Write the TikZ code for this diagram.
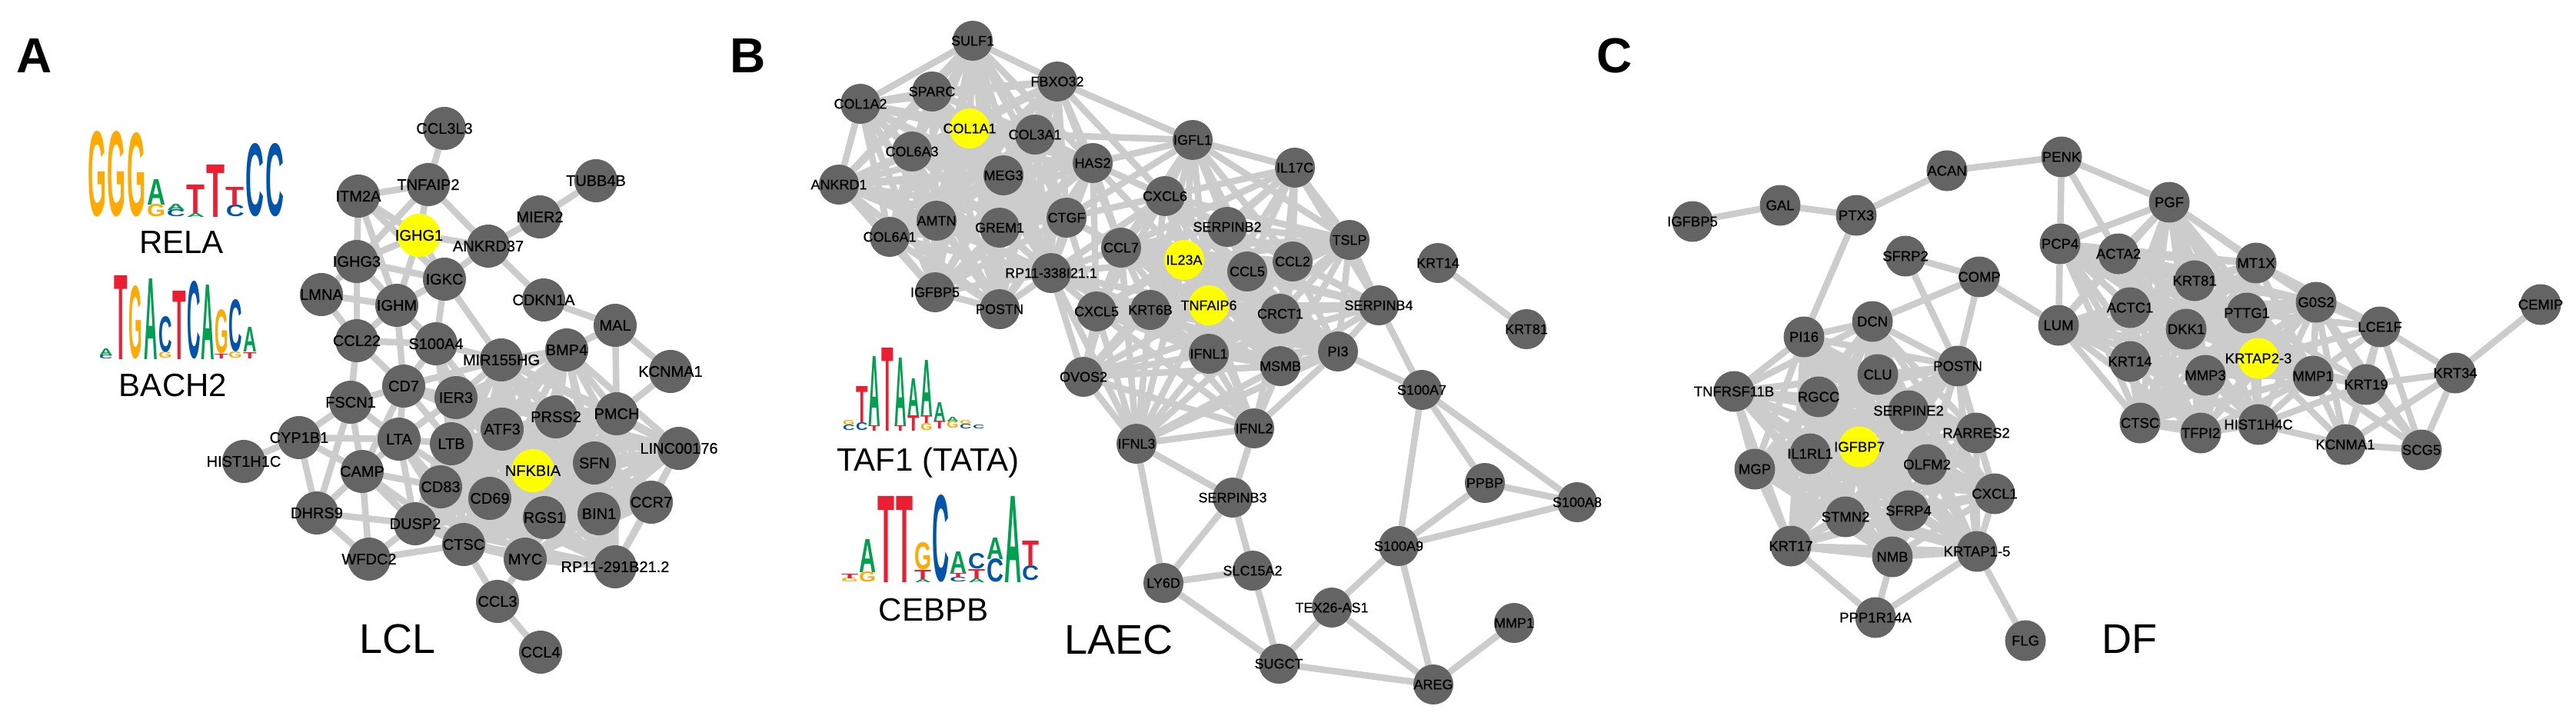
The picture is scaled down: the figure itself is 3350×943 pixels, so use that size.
\documentclass[tikz,border=0pt]{standalone}
\usepackage{fontspec}
\setmainfont{Liberation Sans}
\setsansfont{Liberation Sans}
\newfontfamily\lblfont[FakeBold=0.6]{Liberation Sans}
\usepackage{graphicx}
\pgfdeclarelayer{bg}
\pgfdeclarelayer{edges}
\pgfdeclarelayer{labels}
\pgfsetlayers{bg,edges,main,labels}
\definecolor{nodegray}{RGB}{100,100,100}
\definecolor{edgegray}{RGB}{204,204,204}
\definecolor{hlyellow}{RGB}{255,255,0}
\definecolor{lgA}{RGB}{0,160,80}
\definecolor{lgC}{RGB}{0,85,170}
\definecolor{lgG}{RGB}{255,170,0}
\definecolor{lgT}{RGB}{235,30,50}
\tikzset{
  gnode/.style={circle, fill=nodegray, inner sep=0pt, outer sep=0pt},
  gA/.style={gnode, minimum size=56pt},
  gB/.style={gnode, minimum size=52pt},
  gC/.style={gnode, minimum size=53pt},
  hl/.style={fill=hlyellow},
  edge/.style={draw=edgegray, line width=8.5pt},
  panel/.style={font=\fontsize{64}{64}\selectfont\bfseries, inner sep=0pt},
  cellname/.style={font=\fontsize{54}{54}\selectfont, inner sep=0pt},
  tfname/.style={font=\fontsize{42}{42}\selectfont, inner sep=0pt},
  logoletter/.style={anchor=south west, inner sep=0pt, outer sep=0pt}
}
\newcommand{\gnd}[6]{\node[#1] (#2) at (#3,#4) {};\begin{pgfonlayer}{labels}\node[inner sep=0pt,text=black,font=\lblfont\fontsize{#5}{#5}\selectfont] (#2t) at (#3,#4) {#6};\end{pgfonlayer}}
\newcommand{\na}[5][]{\gnd{gA,#1}{#2}{#3}{#4}{20}{#5}}
\newcommand{\nb}[5][]{\gnd{gB,#1}{#2}{#3}{#4}{18}{#5}}
\newcommand{\nc}[5][]{\gnd{gC,#1}{#2}{#3}{#4}{18.5}{#5}}
\newcommand{\clique}[1]{\foreach \u [count=\i] in {#1}{\foreach \v [count=\j] in {#1}{\ifnum\i<\j\relax\draw[edge] (\u) -- (\v);\fi}}}
\def\lgw{24}
\newcommand{\lgl}[5]{\node[logoletter, text=#4] at (#1,#2) {\resizebox{\lgw pt}{#3pt}{\bfseries #5}};}
\begin{document}
\begin{tikzpicture}[x=1pt,y=-1pt]
\begin{pgfonlayer}{bg}
\fill[white] (0,0) rectangle (3350,943);
\end{pgfonlayer}
\useasboundingbox (0,0) rectangle (3350,943);

% panel letters and titles
\node[panel] (pA) at (45,72) {A};
\node[panel] (pB) at (973,72) {B};
\node[panel] (pC) at (2100,72) {C};
\node[cellname] (tLCL) at (517,831) {LCL};
\node[cellname] (tLAEC) at (1455,832) {LAEC};
\node[cellname] (tDF) at (2769,831) {DF};
\node[tfname] (tRELA) at (236,315) {RELA};
\node[tfname] (tBACH2) at (225,501) {BACH2};
\node[tfname] (tTAF1) at (1207,602) {TAF1 (TATA)};
\node[tfname] (tCEBPB) at (1214,793) {CEBPB};

% ---------- logos ----------
% RELA
\def\lgw{24}
\lgl{114}{282}{110}{lgG}{G}
\lgl{139.7}{282}{110}{lgG}{G}
\lgl{165.4}{282}{108}{lgG}{G}
\lgl{191.1}{282}{16}{lgG}{G}\lgl{191.1}{266}{33}{lgA}{A}
\lgl{216.8}{282}{9}{lgC}{C}\lgl{216.8}{273}{8}{lgA}{A}
\lgl{242.5}{282}{5}{lgA}{A}\lgl{242.5}{277}{37}{lgT}{T}
\lgl{268.2}{282}{68}{lgT}{T}
\lgl{293.9}{282}{15}{lgC}{C}\lgl{293.9}{267}{24}{lgT}{T}
\lgl{319.6}{282}{94}{lgC}{C}
\lgl{345.3}{282}{94}{lgC}{C}
% BACH2
\def\lgw{17.5}
\lgl{129}{467}{5}{lgC}{C}\lgl{129}{462}{9}{lgA}{A}
\lgl{148}{467}{109}{lgT}{T}
\lgl{167.5}{467}{94}{lgG}{G}
\lgl{187}{467}{105}{lgA}{A}
\lgl{206}{466}{8}{lgG}{G}\lgl{206}{458}{46}{lgC}{C}
\lgl{224}{467}{89}{lgT}{T}
\lgl{243}{467}{100}{lgC}{C}
\lgl{261}{467}{97}{lgA}{A}
\lgl{279}{466}{6}{lgT}{T}\lgl{279}{460}{57}{lgG}{G}
\lgl{297}{466}{8}{lgG}{G}\lgl{297}{457}{67}{lgC}{C}
\lgl{316}{466}{8}{lgT}{T}\lgl{316}{457}{32}{lgA}{A}
% TAF1
\def\lgw{15.5}
\lgl{1096}{560}{7}{lgC}{C}\lgl{1096}{553}{6}{lgG}{G}
\lgl{1113}{560}{10}{lgC}{C}\lgl{1113}{549}{47}{lgT}{T}
\lgl{1129}{560}{7}{lgT}{T}\lgl{1129}{553}{90}{lgA}{A}
\lgl{1146}{560}{108}{lgT}{T}
\lgl{1163}{560}{7}{lgT}{T}\lgl{1163}{553}{88}{lgA}{A}
\lgl{1180}{560}{20}{lgT}{T}\lgl{1180}{540}{48}{lgA}{A}
\lgl{1197}{560}{9}{lgG}{G}\lgl{1197}{550}{10}{lgT}{T}\lgl{1197}{540}{72}{lgA}{A}
\lgl{1214}{557}{10}{lgT}{T}\lgl{1214}{547}{24}{lgA}{A}
\lgl{1231}{557}{9}{lgG}{G}\lgl{1231}{548}{6}{lgA}{A}
\lgl{1248}{558}{6}{lgC}{C}\lgl{1248}{552}{5}{lgG}{G}
\lgl{1265}{558}{5}{lgC}{C}
% CEBPB
\def\lgw{22}
\lgl{1094}{757}{5}{lgG}{G}\lgl{1094}{752}{6}{lgT}{T}
\lgl{1117}{757}{13}{lgG}{G}\lgl{1117}{744}{43}{lgA}{A}
\lgl{1141}{757}{112}{lgT}{T}
\lgl{1165}{757}{112}{lgT}{T}
\lgl{1189}{757}{4}{lgA}{A}\lgl{1189}{753}{12}{lgT}{T}\lgl{1189}{741}{35}{lgG}{G}
\lgl{1212}{757}{112}{lgC}{C}
\lgl{1235}{757}{6}{lgC}{C}\lgl{1235}{751}{6}{lgT}{T}\lgl{1235}{745}{28}{lgA}{A}
\lgl{1259}{757}{5}{lgA}{A}\lgl{1259}{752}{12}{lgT}{T}\lgl{1259}{740}{20}{lgC}{C}
\lgl{1283}{757}{30}{lgC}{C}\lgl{1283}{727}{28}{lgA}{A}
\lgl{1306}{757}{112}{lgA}{A}
\lgl{1329}{755}{19}{lgC}{C}\lgl{1329}{736}{33}{lgT}{T}

% ---------- Panel A nodes ----------
\na{aCCL3L3}{578}{167}{CCL3L3}
\na{aTNFAIP2}{557}{240}{TNFAIP2}
\na{aTUBB4B}{775}{235}{TUBB4B}
\na{aITM2A}{466}{255}{ITM2A}
\na{aMIER2}{702}{282}{MIER2}
\na[hl]{aIGHG1}{545}{306}{IGHG1}
\na{aANKRD37}{635}{320}{ANKRD37}
\na{aIGHG3}{464}{340}{IGHG3}
\na{aIGKC}{578}{363}{IGKC}
\na{aLMNA}{418}{383}{LMNA}
\na{aCDKN1A}{707}{390}{CDKN1A}
\na{aIGHM}{516}{397}{IGHM}
\na{aMAL}{800}{423}{MAL}
\na{aCCL22}{464}{443}{CCL22}
\na{aS100A4}{567}{447}{S100A4}
\na{aBMP4}{737}{455}{BMP4}
\na{aMIR155HG}{652}{468}{MIR155HG}
\na{aKCNMA1}{872}{483}{KCNMA1}
\na{aCD7}{525}{502}{CD7}
\na{aIER3}{593}{517}{IER3}
\na{aFSCN1}{456}{523}{FSCN1}
\na{aPMCH}{802}{538}{PMCH}
\na{aPRSS2}{723}{542}{PRSS2}
\na{aATF3}{653}{558}{ATF3}
\na{aCYP1B1}{389}{569}{CYP1B1}
\na{aLTA}{519}{571}{LTA}
\na{aLTB}{587}{577}{LTB}
\na{aLINC}{883}{583}{LINC00176}
\na{aHIST}{317}{600}{HIST1H1C}
\na{aSFN}{773}{602}{SFN}
\na[hl]{aNFKBIA}{693}{612}{NFKBIA}
\na{aCAMP}{471}{613}{CAMP}
\na{aCD83}{573}{633}{CD83}
\na{aCD69}{637}{648}{CD69}
\na{aCCR7}{847}{653}{CCR7}
\na{aDHRS9}{412}{667}{DHRS9}
\na{aBIN1}{779}{668}{BIN1}
\na{aRGS1}{708}{673}{RGS1}
\na{aDUSP2}{540}{681}{DUSP2}
\na{aCTSC}{603}{708}{CTSC}
\na{aMYC}{683}{727}{MYC}
\na{aWFDC2}{480}{727}{WFDC2}
\na{aRP11}{800}{737}{RP11-291B21.2}
\na{aCCL3}{647}{782}{CCL3}
\na{aCCL4}{703}{848}{CCL4}

% ---------- Panel B nodes ----------
\nb{bSULF1}{1265}{53}{SULF1}
\nb{bFBXO32}{1375}{106}{FBXO32}
\nb{bSPARC}{1212}{119}{SPARC}
\nb{bCOL1A2}{1119}{135}{COL1A2}
\nb[hl]{bCOL1A1}{1261}{167}{COL1A1}
\nb{bCOL3A1}{1346}{175}{COL3A1}
\nb{bIGFL1}{1551}{182}{IGFL1}
\nb{bCOL6A3}{1186}{197}{COL6A3}
\nb{bHAS2}{1421}{212}{HAS2}
\nb{bIL17C}{1684}{218}{IL17C}
\nb{bMEG3}{1305}{228}{MEG3}
\nb{bANKRD1}{1091}{240}{ANKRD1}
\nb{bCXCL6}{1515}{255}{CXCL6}
\nb{bCTGF}{1387}{283}{CTGF}
\nb{bAMTN}{1218}{287}{AMTN}
\nb{bSERPINB2}{1596}{295}{SERPINB2}
\nb{bGREM1}{1300}{296}{GREM1}
\nb{bCOL6A1}{1157}{308}{COL6A1}
\nb{bTSLP}{1755}{312}{TSLP}
\nb{bCCL7}{1458}{322}{CCL7}
\nb[hl]{bIL23A}{1540}{338}{IL23A}
\nb{bCCL2}{1681}{340}{CCL2}
\nb{bKRT14}{1870}{342}{KRT14}
\nb{bCCL5}{1622}{353}{CCL5}
\nb{bRP11}{1367}{355}{RP11-338I21.1}
\nb{bIGFBP5}{1216}{380}{IGFBP5}
\nb{bSERPINB4}{1793}{397}{SERPINB4}
\nb[hl]{bTNFAIP6}{1572}{397}{TNFAIP6}
\nb{bPOSTN}{1300}{402}{POSTN}
\nb{bKRT6B}{1496}{403}{KRT6B}
\nb{bCXCL5}{1426}{405}{CXCL5}
\nb{bCRCT1}{1665}{408}{CRCT1}
\nb{bKRT81}{1985}{428}{KRT81}
\nb{bPI3}{1740}{457}{PI3}
\nb{bIFNL1}{1572}{460}{IFNL1}
\nb{bMSMB}{1665}{476}{MSMB}
\nb{bOVOS2}{1409}{490}{OVOS2}
\nb{bS100A7}{1849}{507}{S100A7}
\nb{bIFNL2}{1631}{557}{IFNL2}
\nb{bIFNL3}{1478}{577}{IFNL3}
\nb{bPPBP}{1931}{628}{PPBP}
\nb{bSERPINB3}{1603}{647}{SERPINB3}
\nb{bS100A8}{2051}{653}{S100A8}
\nb{bS100A9}{1819}{710}{S100A9}
\nb{bSLC15A2}{1629}{742}{SLC15A2}
\nb{bLY6D}{1513}{758}{LY6D}
\nb{bTEX26}{1732}{790}{TEX26-AS1}
\nb{bMMP1}{1969}{810}{MMP1}
\nb{bSUGCT}{1663}{863}{SUGCT}
\nb{bAREG}{1864}{890}{AREG}

% ---------- Panel C nodes ----------
\nc{cIGFBP5}{2201}{288}{IGFBP5}
\nc{cGAL}{2315}{267}{GAL}
\nc{cPTX3}{2414}{280}{PTX3}
\nc{cACAN}{2532}{222}{ACAN}
\nc{cPENK}{2681}{204}{PENK}
\nc{cPGF}{2821}{263}{PGF}
\nc{cPCP4}{2679}{317}{PCP4}
\nc{cACTA2}{2755}{330}{ACTA2}
\nc{cSFRP2}{2478}{333}{SFRP2}
\nc{cMT1X}{2934}{342}{MT1X}
\nc{cCOMP}{2574}{360}{COMP}
\nc{cKRT81}{2854}{365}{KRT81}
\nc{cG0S2}{3012}{393}{G0S2}
\nc{cCEMIP}{3304}{396}{CEMIP}
\nc{cACTC1}{2770}{400}{ACTC1}
\nc{cPTTG1}{2922}{407}{PTTG1}
\nc{cDCN}{2435}{418}{DCN}
\nc{cLUM}{2677}{423}{LUM}
\nc{cLCE1F}{3095}{425}{LCE1F}
\nc{cDKK1}{2843}{428}{DKK1}
\nc{cPI16}{2346}{438}{PI16}
\nc[hl]{cKRTAP23}{2937}{466}{KRTAP2-3}
\nc{cKRT14}{2770}{470}{KRT14}
\nc{cPOSTN}{2546}{476}{POSTN}
\nc{cKRT34}{3193}{485}{KRT34}
\nc{cCLU}{2442}{487}{CLU}
\nc{cMMP3}{2868}{488}{MMP3}
\nc{cMMP1}{3008}{489}{MMP1}
\nc{cKRT19}{3077}{500}{KRT19}
\nc{cTNFRSF11B}{2255}{509}{TNFRSF11B}
\nc{cRGCC}{2365}{516}{RGCC}
\nc{cSERPINE2}{2482}{534}{SERPINE2}
\nc{cCTSC}{2783}{550}{CTSC}
\nc{cHIST1H4C}{2937}{552}{HIST1H4C}
\nc{cRARRES2}{2570}{563}{RARRES2}
\nc{cTFPI2}{2862}{563}{TFPI2}
\nc{cKCNMA1}{3050}{578}{KCNMA1}
\nc[hl]{cIGFBP7}{2418}{581}{IGFBP7}
\nc{cSCG5}{3149}{585}{SCG5}
\nc{cIL1RL1}{2354}{590}{IL1RL1}
\nc{cOLFM2}{2506}{604}{OLFM2}
\nc{cMGP}{2282}{610}{MGP}
\nc{cCXCL1}{2594}{642}{CXCL1}
\nc{cSFRP4}{2482}{664}{SFRP4}
\nc{cSTMN2}{2400}{672}{STMN2}
\nc{cKRT17}{2329}{710}{KRT17}
\nc{cKRTAP15}{2571}{717}{KRTAP1-5}
\nc{cNMB}{2461}{724}{NMB}
\nc{cPPP1R14A}{2439}{803}{PPP1R14A}
\nc{cFLG}{2634}{833}{FLG}

% ---------- edges ----------
\begin{pgfonlayer}{edges}
% Panel A
\clique{aMIR155HG,aBMP4,aPMCH,aIER3,aPRSS2,aATF3,aLTB,aLINC,aSFN,aNFKBIA,aCD83,aCD69,aCCR7,aBIN1,aRGS1,aCTSC,aMYC,aRP11,aDUSP2}
\foreach \u/\v in {aCCL3L3/aTNFAIP2, aTNFAIP2/aITM2A, aTNFAIP2/aIGHG1, aTNFAIP2/aANKRD37, aTNFAIP2/aIGHG3,
  aIGHG1/aANKRD37, aIGHG1/aITM2A, aIGHG1/aIGHG3, aIGHG1/aIGKC, aIGHG1/aIGHM, aITM2A/aIGHG3, aITM2A/aIGKC,
  aITM2A/aIGHM, aANKRD37/aMIER2, aMIER2/aTUBB4B, aANKRD37/aIGKC, aANKRD37/aCDKN1A, aCDKN1A/aMAL,
  aMAL/aBMP4, aMAL/aPMCH, aMAL/aKCNMA1, aKCNMA1/aPMCH, aIGHG3/aLMNA, aIGHG3/aIGHM, aIGHG3/aCCL22,
  aIGHG3/aIGKC, aLMNA/aIGHM, aLMNA/aCCL22, aIGHM/aIGKC, aIGHM/aCCL22, aIGHM/aS100A4, aIGKC/aS100A4,
  aIGHM/aCD7, aCCL22/aFSCN1, aCCL22/aCD7, aCCL22/aS100A4, aS100A4/aCD7, aS100A4/aMIR155HG, aS100A4/aIER3,
  aS100A4/aLTB, aS100A4/aATF3, aCD7/aFSCN1, aCD7/aLTA, aCD7/aIER3, aCD7/aMIR155HG, aCD7/aLTB, aCD7/aCAMP,
  aCD7/aATF3, aFSCN1/aCYP1B1, aFSCN1/aLTA, aFSCN1/aCAMP, aFSCN1/aDHRS9, aCYP1B1/aHIST, aCYP1B1/aDHRS9,
  aCYP1B1/aCAMP, aCYP1B1/aLTA, aLTA/aCAMP, aLTA/aIER3, aLTA/aLTB, aLTA/aCD83, aLTA/aDUSP2, aLTA/aCTSC,
  aLTA/aCD69, aCAMP/aDHRS9, aCAMP/aDUSP2, aCAMP/aWFDC2, aCAMP/aCD83, aCAMP/aCTSC, aDHRS9/aDUSP2,
  aDHRS9/aWFDC2, aWFDC2/aDUSP2, aWFDC2/aCTSC, aCTSC/aCCL3, aMYC/aCCL3, aCCL3/aCCL4, aIGKC/aMIR155HG}
  {\draw[edge] (\u) -- (\v);}
% Panel B
\clique{bSULF1,bSPARC,bCOL1A2,bCOL1A1,bCOL3A1,bFBXO32,bCOL6A3,bMEG3,bANKRD1,bAMTN,bGREM1,bCTGF,bCOL6A1,bIGFBP5,bPOSTN,bRP11,bHAS2}
\clique{bCXCL6,bSERPINB2,bCCL7,bIL23A,bCCL5,bCCL2,bTSLP,bTNFAIP6,bCRCT1,bSERPINB4,bCXCL5,bKRT6B,bIFNL1,bMSMB,bPI3}
\foreach \u/\v in {bFBXO32/bIGFL1, bCOL3A1/bIGFL1, bHAS2/bIGFL1, bCTGF/bIGFL1, bFBXO32/bCXCL6, bFBXO32/bCCL7,
  bIGFL1/bIL17C, bIGFL1/bCXCL6, bIGFL1/bSERPINB2, bIGFL1/bCCL7, bIGFL1/bIL23A, bIGFL1/bCCL5, bIGFL1/bCCL2,
  bIGFL1/bTSLP, bIGFL1/bTNFAIP6, bIGFL1/bKRT6B, bIGFL1/bCRCT1,
  bIL17C/bCXCL6, bIL17C/bSERPINB2, bIL17C/bCCL5, bIL17C/bCCL2, bIL17C/bTSLP, bIL17C/bSERPINB4, bIL17C/bIL23A,
  bIL17C/bCRCT1, bIL17C/bCCL7, bIL17C/bTNFAIP6,
  bHAS2/bCXCL6, bHAS2/bCCL7, bHAS2/bCXCL5, bHAS2/bIL23A, bCTGF/bCCL7, bCTGF/bCXCL5, bCTGF/bCXCL6,
  bRP11/bCCL7, bRP11/bCXCL5, bRP11/bKRT6B, bRP11/bCXCL6, bRP11/bIL23A, bRP11/bTNFAIP6, bRP11/bIFNL1,
  bRP11/bOVOS2, bRP11/bIFNL3, bRP11/bMSMB,
  bOVOS2/bCXCL5, bOVOS2/bKRT6B, bOVOS2/bTNFAIP6, bOVOS2/bIFNL1, bOVOS2/bIFNL3, bOVOS2/bIFNL2, bOVOS2/bMSMB,
  bOVOS2/bCCL7, bOVOS2/bIL23A, bOVOS2/bCRCT1,
  bIFNL3/bCXCL5, bIFNL3/bKRT6B, bIFNL3/bTNFAIP6, bIFNL3/bIFNL1, bIFNL3/bIFNL2, bIFNL3/bMSMB, bIFNL3/bLY6D,
  bIFNL3/bSERPINB3, bIFNL3/bCCL7, bIFNL3/bIL23A, bIFNL3/bCRCT1, bIFNL3/bPI3,
  bIFNL2/bIFNL1, bIFNL2/bMSMB, bIFNL2/bTNFAIP6, bIFNL2/bCRCT1, bIFNL2/bKRT6B, bIFNL2/bCXCL5, bIFNL2/bSERPINB3,
  bIFNL2/bPI3, bIFNL2/bIL23A,
  bSERPINB4/bS100A7, bPI3/bS100A7, bLY6D/bSERPINB3, bLY6D/bSLC15A2, bLY6D/bSUGCT, bSERPINB3/bSLC15A2,
  bSLC15A2/bSUGCT, bSUGCT/bTEX26, bSUGCT/bAREG, bTEX26/bS100A9, bTEX26/bAREG, bS100A9/bAREG, bAREG/bMMP1,
  bS100A9/bS100A7, bS100A9/bPPBP, bS100A9/bS100A8, bS100A7/bPPBP, bS100A7/bS100A8, bPPBP/bS100A8, bKRT14/bKRT81}
  {\draw[edge] (\u) -- (\v);}
% Panel C
\clique{cPI16,cDCN,cCLU,cPOSTN,cTNFRSF11B,cRGCC,cSERPINE2,cRARRES2,cIGFBP7,cIL1RL1,cOLFM2,cMGP,cCXCL1,cSFRP4,cSTMN2,cKRT17,cNMB,cKRTAP15}
\clique{cPCP4,cPGF,cACTA2,cMT1X,cKRT81,cACTC1,cPTTG1,cG0S2,cDKK1,cKRTAP23,cKRT14,cMMP3,cMMP1,cCTSC,cTFPI2,cHIST1H4C,cLUM}
\foreach \u/\v in {cIGFBP5/cGAL, cGAL/cPTX3, cPTX3/cACAN, cACAN/cPENK, cPTX3/cPI16, cSFRP2/cCOMP, cSFRP2/cPOSTN,
  cCOMP/cPOSTN, cCOMP/cDCN, cCOMP/cLUM, cKRT17/cPPP1R14A, cNMB/cPPP1R14A, cKRTAP15/cPPP1R14A, cKRTAP15/cFLG,
  cPENK/cPCP4, cPENK/cPGF, cPENK/cACTA2, cKRT34/cCEMIP, cKRT34/cKRT19, cKRT34/cSCG5, cKRT34/cKCNMA1,
  cKRT34/cLCE1F, cKCNMA1/cSCG5, cKCNMA1/cHIST1H4C, cKCNMA1/cMMP1, cKCNMA1/cKRT19, cKCNMA1/cLCE1F,
  cKCNMA1/cG0S2, cKCNMA1/cKRTAP23, cSCG5/cLCE1F, cSCG5/cKRT19, cSCG5/cMMP1, cSCG5/cG0S2, cLCE1F/cG0S2,
  cLCE1F/cMT1X, cLCE1F/cMMP1, cLCE1F/cKRT19, cLCE1F/cKRTAP23, cLCE1F/cPTTG1, cKRT19/cMMP1, cKRT19/cKRTAP23,
  cKRT19/cG0S2, cKRT19/cPTTG1, cKRT19/cHIST1H4C}
  {\draw[edge] (\u) -- (\v);}
\end{pgfonlayer}
\end{tikzpicture}
\end{document}
